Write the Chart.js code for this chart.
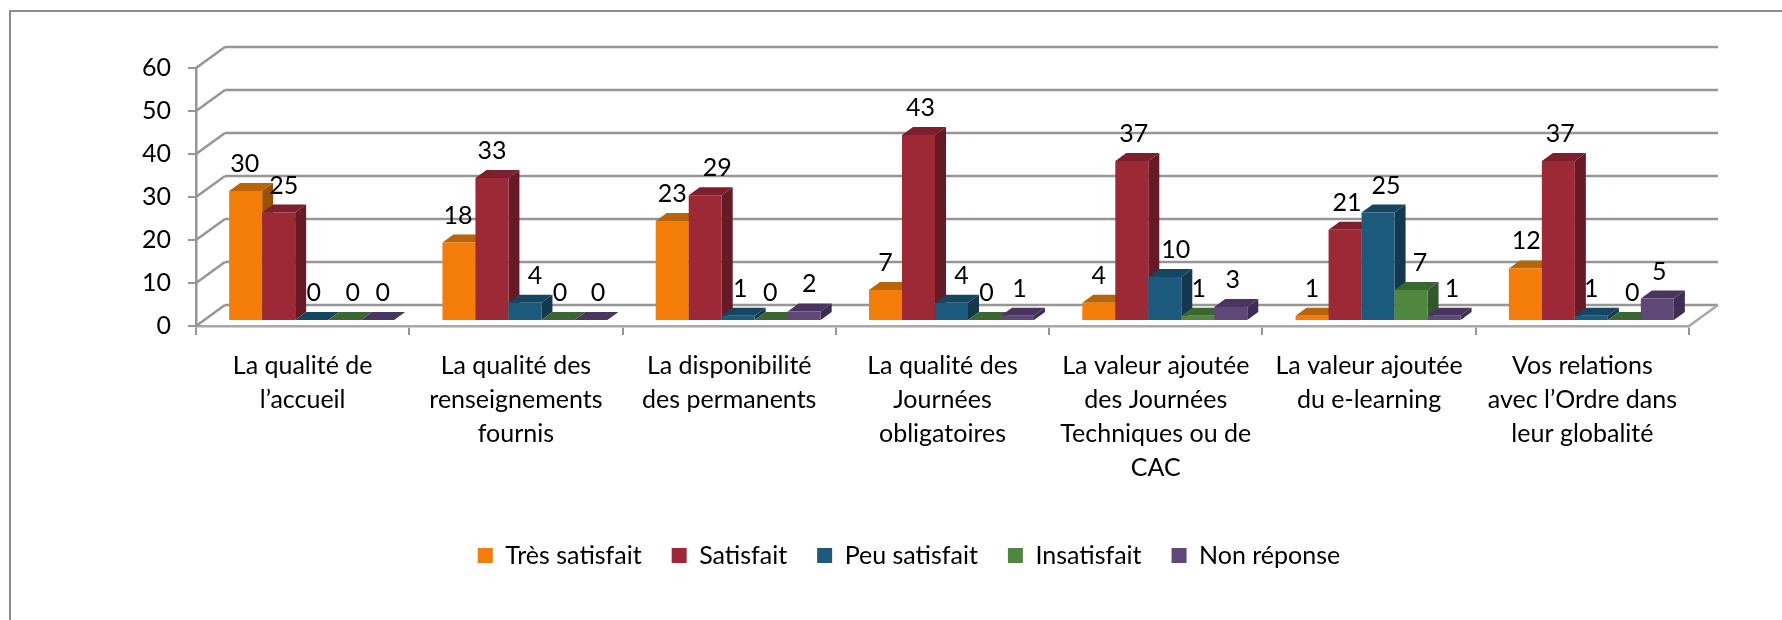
<!DOCTYPE html>
<html lang="fr">
<head>
    <meta charset="UTF-8">
    <title>Satisfaction</title>
    <script src="https://cdn.jsdelivr.net/npm/chart.js"></script>
    <style>
        html, body {
            margin: 0;
            padding: 0;
            background: #fff;
        }
        #wrap {
            position: relative;
            width: 1782px;
            height: 620px;
            overflow: hidden;
        }
        #frame {
            position: absolute;
            left: 9px;
            top: 10px;
            width: 1800px;
            height: 700px;
            border-left: 2px solid #8c8c8c;
            border-top: 2px solid #8c8c8c;
        }
        canvas {
            position: absolute;
            left: 0;
            top: 0;
        }
    </style>
</head>
<body>
    <div id="wrap">
        <div id="frame"></div>
        <canvas id="chart" width="1782" height="620"></canvas>
    </div>

    <script>
        const categories = [
            ['La qualité de', 'l’accueil'],
            ['La qualité des', 'renseignements', 'fournis'],
            ['La disponibilité', 'des permanents'],
            ['La qualité des', 'Journées', 'obligatoires'],
            ['La valeur ajoutée', 'des Journées', 'Techniques ou de', 'CAC'],
            ['La valeur ajoutée', 'du e-learning'],
            ['Vos relations', 'avec l’Ordre dans', 'leur globalité']
        ];
        const seriesNames = ['Très satisfait', 'Satisfait', 'Peu satisfait', 'Insatisfait', 'Non réponse'];
        const tresSatisfait = [30, 18, 23, 7, 4, 1, 12];
        const satisfait = [25, 33, 29, 43, 37, 21, 37];
        const peuSatisfait = [0, 4, 1, 4, 10, 25, 1];
        const insatisfait = [0, 0, 0, 0, 1, 7, 0];
        const nonReponse = [0, 0, 2, 1, 3, 1, 5];

        // front, top and side colours of each series
        const frontColors = ['#f47d0a', '#9e2936', '#1c5a7d', '#50873f', '#5f4878'];
        const topColors = ['#b96406', '#7d1f2c', '#154660', '#3a6630', '#4a3560'];
        const sideColors = ['#985205', '#671a24', '#13374e', '#33562a', '#3e2d52'];

        const gridColor = '#969696';
        const fontName = 'Lato, Carlito, sans-serif';
        const fontSize = 25;

        // the 3D look: depth of the box and of the bars, shift of the bars on the floor
        const wallDx = 29, wallDy = 21;
        const barDx = 11, barDy = 8, barShift = 9;

        // Excel moved some value labels sideways, one row per series (px)
        const labelNudges = [
            [-1, -1, 0, 0, 0, 0, 1],
            [5, 0, 12, 2, 2, 2, 2],
            [2, 10, 2, 10, 11, 8, 0],
            [8, 2, -1, 2, 1, 9, 8],
            [5, 7, 5, 2, 2, 8, 2]
        ];

        function line(ctx, x1, y1, x2, y2) {
            ctx.beginPath();
            ctx.moveTo(x1, y1);
            ctx.lineTo(x2, y2);
            ctx.stroke();
        }

        function poly(ctx, color, pts) {
            ctx.fillStyle = color;
            ctx.beginPath();
            ctx.moveTo(pts[0][0], pts[0][1]);
            pts.slice(1).forEach(p => ctx.lineTo(p[0], p[1]));
            ctx.closePath();
            ctx.fill();
        }

        const box3d = {
            id: 'box3d',
            beforeDatasetsDraw(chart) {
                const ctx = chart.ctx;
                const area = chart.chartArea;
                const y = chart.scales.y;

                // back wall and left wall
                ctx.save();
                ctx.strokeStyle = gridColor;
                ctx.lineWidth = 2.5;
                y.ticks.forEach(t => {
                    const py = y.getPixelForValue(t.value);
                    line(ctx, area.left, py, area.left + wallDx, py - wallDy);
                    line(ctx, area.left + wallDx, py - wallDy, area.right + wallDx, py - wallDy);
                });
                ctx.strokeStyle = '#a8a8a8';
                line(ctx, area.right, area.bottom, area.right + wallDx, area.bottom - wallDy);
                ctx.restore();

                // bars, left to right so that each front covers the side of the one before
                ctx.save();
                ctx.translate(barShift, 0);
                chart.data.datasets.forEach((ds, i) => {
                    const meta = chart.getDatasetMeta(i);
                    meta.data.forEach(bar => {
                        const l = bar.x - bar.width / 2, r = bar.x + bar.width / 2;
                        poly(ctx, topColors[i], [[l, bar.y], [l + barDx, bar.y - barDy], [r + barDx, bar.y - barDy], [r, bar.y]]);
                        poly(ctx, sideColors[i], [[r, bar.y], [r + barDx, bar.y - barDy], [r + barDx, bar.base - barDy], [r, bar.base]]);
                    });
                    meta.data.forEach(bar => bar.draw(ctx));
                });

                // value labels
                ctx.fillStyle = '#000';
                ctx.font = fontSize + 'px ' + fontName;
                ctx.textAlign = 'center';
                ctx.textBaseline = 'middle';
                chart.data.datasets.forEach((ds, i) => {
                    chart.getDatasetMeta(i).data.forEach((bar, j) => {
                        ctx.fillText(ds.data[j], bar.x + labelNudges[i][j], bar.y - 27);
                    });
                });
                ctx.restore();
                return false;
            }
        };

        const allSeries = [tresSatisfait, satisfait, peuSatisfait, insatisfait, nonReponse];

        new Chart(document.getElementById('chart'), {
            type: 'bar',
            data: {
                labels: categories,
                datasets: allSeries.map((values, i) => ({
                    label: seriesNames[i],
                    data: values,
                    backgroundColor: frontColors[i],
                    borderWidth: 0,
                    yAxisID: 'yBars',
                    categoryPercentage: 0.7735,
                    barPercentage: 1
                }))
            },
            options: {
                responsive: false,
                animation: false,
                layout: {
                    padding: { left: 129, right: 93, top: 68, bottom: 42 }
                },
                plugins: {
                    legend: {
                        position: 'bottom',
                        labels: {
                            boxWidth: 15,
                            boxHeight: 15,
                            padding: 30,
                            color: '#000',
                            font: { family: fontName, size: fontSize }
                        }
                    },
                    tooltip: { enabled: false }
                },
                scales: {
                    x: {
                        grid: {
                            drawOnChartArea: false,
                            color: gridColor,
                            lineWidth: 2,
                            tickLength: 9
                        },
                        border: { color: '#a8a8a8', width: 2.5 },
                        ticks: {
                            maxRotation: 0,
                            autoSkip: false,
                            padding: 14,
                            color: '#000',
                            font: { family: fontName, size: fontSize, lineHeight: 1.36 }
                        },
                        afterFit(scale) {
                            scale.height = 187;
                        }
                    },
                    y: {
                        min: 0,
                        max: 60,
                        grid: {
                            drawOnChartArea: false,
                            color: gridColor,
                            lineWidth: 2,
                            tickLength: 8
                        },
                        border: { color: gridColor, width: 2.5 },
                        ticks: {
                            stepSize: 10,
                            padding: 17,
                            color: '#000',
                            font: { family: fontName, size: fontSize }
                        },
                        afterFit(scale) {
                            scale.width = 67;
                        }
                    },
                    // same pixels per unit as y, only the zero sits higher (bars stand on the floor)
                    yBars: {
                        display: false,
                        min: -1.4,
                        max: 58.6
                    }
                }
            },
            plugins: [box3d]
        });
    </script>
</body>
</html>
